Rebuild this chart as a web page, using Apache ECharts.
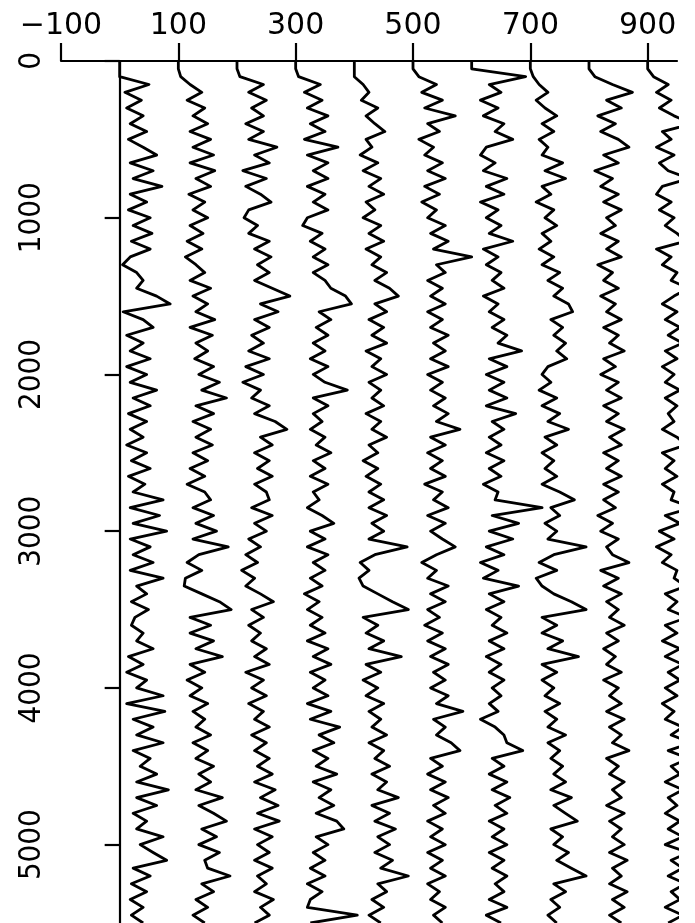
<!DOCTYPE html>
<html>
<head>
<meta charset="utf-8">
<script src="https://cdn.jsdelivr.net/npm/echarts@6/dist/echarts.min.js"></script>
<style>
  html, body { margin: 0; padding: 0; background: #fff; }
  #main { width: 695px; height: 923px; }
</style>
</head>
<body>
<div id="main"></div>
<script>
  // sample depths (y axis), one value every 50
  var depths = [0,50,100,150,200,250,300,350,400,450,500,550,600,650,700,750,800,850,900,950,
    1000,1050,1100,1150,1200,1250,1300,1350,1400,1450,1500,1550,1600,1650,1700,1750,1800,1850,1900,1950,
    2000,2050,2100,2150,2200,2250,2300,2350,2400,2450,2500,2550,2600,2650,2700,2750,2800,2850,2900,2950,
    3000,3050,3100,3150,3200,3250,3300,3350,3400,3450,3500,3550,3600,3650,3700,3750,3800,3850,3900,3950,
    4000,4050,4100,4150,4200,4250,4300,4350,4400,4450,4500,4550,4600,4650,4700,4750,4800,4850,4900,4950,
    5000,5050,5100,5150,5200,5250,5300,5350,5400,5450,5500];

  // trace baselines on the x axis
  var offsets = [0, 100, 200, 300, 400, 500, 600, 700, 800, 900];

  var xTicks = [-100, 100, 300, 500, 700, 900];
  var yTicks = [0, 1000, 2000, 3000, 4000, 5000];

  // deflection of each trace from its baseline
  var trace0 = [0,0,0,
    50,9,37,12,40,18,46,15,40,63, 18,57,23,72,18,46,15,52,23,55, 20,52,18,5,29,40,29,63,86,6,
    40,57,12,40,18,52,12,46,18,63, 23,52,15,46,18,40,12,46,20,52, 15,43,23,
    74,18,68,23,80,18,52,23,57,18, 74,29,46,20,49,26,20,40,29,57, 15,40,12,46,29,74,12,77,23,57,
    29,74,23,52,35,63,29,83,29,63, 23,46,29,74,35,57,80,23,52,20, 46,18,40,20,40];
  var trace1 = [0,0,4,
    20,40,15,45,25,50,20,55,25,60, 20,62,30,55,18,45,25,50,20,42, 15,40,12,30,45,20,55,25,50,30,
    62,20,58,30,50,28,60,35,70,40, 82,30,60,25,55,30,58,25,50,20, 45,15,45,
    55,25,60,30,65,25,85,35,15,40, 12,10,40,70,90,20,55,20,60,30, 75,20,45,15,40,20,50,25,45,30,
    55,25,50,30,60,35,55,30,75,35, 60,82,40,65,35,70,45,50,88,40, 60,30,50,25,45];
  var trace2 = [0,0,5,
    45,20,50,25,45,15,45,20,68,30, 55,10,50,15,40,58,20,12,35,20, 55,30,58,35,55,30,60,90,40,70,
    30,55,25,45,20,55,15,45,10,40, 25,55,30,65,85,40,60,30,55,35, 60,30,50,
    55,25,60,30,50,20,40,15,35,8, 30,15,40,62,25,45,20,40,25,50, 30,55,15,45,25,50,20,45,30,55,
    25,50,30,55,35,60,30,65,40,70, 35,72,30,60,35,55,30,60,35,50, 30,62,40,55,30];
  var trace3 = [0,0,5,
    42,15,45,20,55,25,50,15,72,20, 55,30,55,20,50,30,55,20,12,45, 25,50,30,55,30,50,60,85,95,40,
    60,35,55,30,50,25,55,30,50,88, 30,55,30,45,25,50,35,60,30,50, 25,55,30,
    40,20,45,65,25,50,20,55,30,50, 25,45,15,40,20,45,25,50,20,55, 30,60,25,50,30,55,20,60,25,75,
    40,65,30,55,35,70,30,60,40,65, 35,70,82,35,55,30,50,25,50,20, 45,25,20,105,25];
  var trace4 = [0,0,0,
    15,25,12,40,20,35,52,20,30,10, 40,15,45,25,50,20,35,15,45,25, 50,20,45,30,55,35,60,75,35,55,
    25,50,30,55,20,45,30,55,25,45, 30,50,20,45,30,55,25,40,15,40, 20,45,25,
    50,25,55,30,50,25,90,35,10,25, 8,15,40,65,92,15,40,20,50,25, 80,20,45,15,40,20,50,25,45,30,
    55,25,50,35,60,30,55,40,75,30, 60,35,70,40,60,35,65,45,92,40, 55,30,50,25,45];
  var trace5 = [0,0,10,
    40,15,50,20,72,25,45,10,35,20, 50,25,55,20,45,15,40,25,55,30, 60,35,100,40,55,25,50,30,55,25,
    50,30,60,35,55,30,60,25,50,30, 55,35,60,40,80,30,55,25,50,30, 55,20,50,
    35,60,25,55,30,50,72,40,15,40, 25,60,30,55,25,45,20,50,25,55, 30,60,35,55,30,60,40,85,35,55,
    40,65,80,30,50,25,55,30,60,35, 55,25,50,30,55,25,50,30,55,25, 45,30,55,35,50];
  var trace6 = [0,0,92,
    30,50,15,45,20,55,40,70,25,15, 40,20,60,25,55,15,45,25,50,30, 70,20,45,25,50,35,55,20,45,30,
    55,35,60,45,85,30,60,25,55,30, 60,25,75,35,55,30,50,25,55,30, 50,20,45,
    40,120,35,80,30,70,25,55,15,45, 20,80,30,55,25,50,35,60,30,55, 25,50,30,55,35,50,30,45,15,40,
    55,60,87,35,55,30,60,35,65,40, 60,30,55,35,60,30,55,35,60,40, 55,30,60,25,50];
  var trace7 = [0,0,5,
    15,30,10,25,45,20,40,15,30,20, 55,25,60,20,35,10,40,25,45,20, 35,15,40,20,50,30,55,40,65,72,
    35,55,40,60,45,62,30,20,35,15, 45,20,50,30,65,25,45,20,40,25, 45,20,50,
    75,35,50,25,45,30,95,40,15,45, 10,20,40,70,95,20,45,20,55,30, 82,20,45,20,40,25,50,25,45,30,
    60,30,50,35,55,40,60,35,70,40, 60,80,35,55,40,65,45,70,95,40, 60,35,50,30,45];
  var trace8 = [0,0,10,
    40,74,30,55,15,45,20,50,68,25, 50,10,40,20,50,25,55,30,45,20, 50,30,55,15,40,25,50,20,45,30,
    55,25,50,35,60,25,45,20,50,30, 55,25,50,30,60,35,55,25,50,30, 55,25,50,
    25,45,15,40,20,50,30,40,68,20, 50,25,55,30,50,35,60,30,50,25, 45,30,55,25,50,35,55,30,60,35,
    55,40,68,30,50,35,60,40,55,30, 60,35,55,40,60,35,65,40,55,35, 65,40,60,35,55];
  var trace9 = [0,0,10,
    35,15,40,20,45,77,25,40,15,45, 20,35,70,25,15,40,20,45,30,50, 65,15,40,25,50,40,70,45,25,50,
    30,55,35,60,30,50,25,45,30,55, 30,50,35,45,25,50,65,25,45,30, 50,25,45,
    40,75,30,55,20,45,15,40,25,50, 45,65,30,50,35,68,30,50,25,55, 30,60,35,55,30,50,25,45,30,60,
    40,75,35,70,40,55,30,60,35,50, 30,55,35,60,30,70,40,60,35,65, 40,55,30,60,35];

  var traces = [trace0, trace1, trace2, trace3, trace4, trace5, trace6, trace7, trace8, trace9];

  var series = traces.map(function (vals, k) {
    return {
      type: 'line',
      data: depths.map(function (d, i) { return [offsets[k] + vals[i], d]; }),
      showSymbol: false,
      clip: false,
      lineStyle: { color: '#000', width: 2.8, join: 'round' },
      silent: true
    };
  });

  // plain numbers, true minus sign
  function plain(v) {
    return String(v).replace('-', '\u2212');
  }

  var myChart = echarts.init(document.getElementById('main'));
  myChart.setOption({
    animation: false,
    backgroundColor: '#fff',
    grid: { left: 61, right: 18, top: 61, bottom: 0 },
    xAxis: {
      type: 'value',
      position: 'top',
      min: -100,
      max: 950,
      axisLine: { lineStyle: { color: '#000', width: 2.2 } },
      axisTick: { customValues: xTicks, length: 18, lineStyle: { color: '#000', width: 2.2 } },
      axisLabel: {
        customValues: xTicks,
        formatter: plain,
        margin: 20,
        color: '#000',
        fontSize: 30,
        fontFamily: 'DejaVu Sans'
      },
      splitLine: { show: false }
    },
    yAxis: {
      type: 'value',
      inverse: true,
      min: 0,
      max: 5500,
      axisLine: { lineStyle: { color: '#000', width: 2.2 } },
      axisTick: { customValues: yTicks, length: 15, lineStyle: { color: '#000', width: 2.2 } },
      axisLabel: {
        customValues: yTicks,
        formatter: plain,
        rotate: 90,
        margin: 14,
        color: '#000',
        fontSize: 31,
        fontFamily: "'DejaVu Sans Condensed', 'Liberation Sans Narrow', sans-serif"
      },
      splitLine: { show: false }
    },
    series: series
  });
</script>
</body>
</html>
